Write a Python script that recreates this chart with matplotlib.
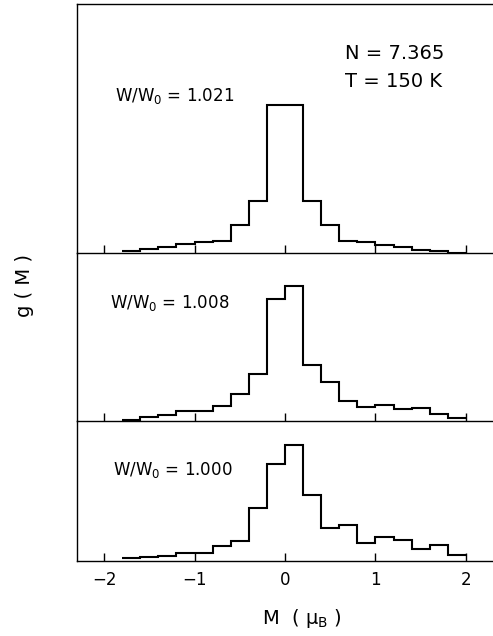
import matplotlib
matplotlib.use('Agg')
import matplotlib.pyplot as plt
import numpy as np

# bin edges of the magnetisation histograms (mu_B)
edges = np.round(np.arange(-1.8, 2.01, 0.2), 2)

# g(M), arbitrary units
g_1021 = [2.3, 4.0, 5.7, 8.7, 11.0, 12.3, 27.7, 52.3, 148.0, 148.0,
          52.3, 28.3, 12.3, 11.0, 7.7, 5.7, 3.3, 2.3, 0.0]
g_1008 = [1.0, 3.5, 6.0, 10.0, 9.5, 15.0, 26.5, 46.5, 121.5, 135.0,
          55.5, 38.5, 20.0, 14.0, 15.5, 11.5, 13.0, 7.0, 2.5]
g_1000 = [3.0, 4.0, 5.3, 8.0, 8.0, 15.0, 19.7, 53.0, 97.3, 116.3,
          66.3, 33.0, 36.3, 18.3, 24.0, 20.7, 11.7, 15.7, 6.3]

labels = [r'W/W$_0$ = 1.021', r'W/W$_0$ = 1.008', r'W/W$_0$ = 1.000']
series = [g_1021, g_1008, g_1000]
ytops = [249, 167.5, 140.5]
label_pos = [(0.091, 0.63), (0.079, 0.70), (0.087, 0.648)]
xticks = [-2, -1, 0, 1, 2]

plt.rcParams['font.family'] = 'DejaVu Sans'
plt.rcParams['mathtext.fontset'] = 'dejavusans'

fig = plt.figure(figsize=(4.93, 6.36), dpi=100)

# panel boundaries in pixels from the top (bottom edge, top edge)
left = 77 / 493
bounds = [(253, 4), (420.5, 253), (561, 420.5)]
axes = []
for (yb, yt) in bounds:
    ax = fig.add_axes([left, 1 - yb / 636, 1 - left, (yb - yt) / 636])
    ax.patch.set_facecolor('none')
    axes.append(ax)

for i, ax in enumerate(axes):
    ax.stairs(series[i], edges, color='black', linewidth=1.5, baseline=None)
    ax.set_xlim(-2.3, 2.3)
    ax.set_ylim(0, ytops[i])
    ax.set_yticks([])
    ax.set_xticks(xticks)
    ax.tick_params(axis='x', direction='in', length=6, width=1,
                   labelsize=12, pad=7)
    ax.spines['right'].set_visible(False)
    for s in ['left', 'top', 'bottom']:
        ax.spines[s].set_linewidth(1.0)
    if i > 0:
        ax.spines['top'].set_visible(False)
    if i < 2:
        ax.tick_params(axis='x', labelbottom=False)
    ax.text(label_pos[i][0], label_pos[i][1], labels[i], transform=ax.transAxes,
            fontsize=12, ha='left', va='center')

axes[0].text(0.644, 0.80, 'N = 7.365', transform=axes[0].transAxes,
             fontsize=14, ha='left', va='center')
axes[0].text(0.644, 0.69, 'T = 150 K', transform=axes[0].transAxes,
             fontsize=14, ha='left', va='center')

axes[2].set_xticklabels(['\u22122', '\u22121', '0', '1', '2'])
axes[2].set_xlabel('M  ( μ$_\\mathrm{B}$ )', fontsize=14)
axes[2].xaxis.set_label_coords(0.54, -0.33)
fig.text(24 / 493, 1 - 285 / 636, 'g ( M )', rotation=90, fontsize=14,
         ha='center', va='center')

fig.savefig('out.png', dpi=100)
